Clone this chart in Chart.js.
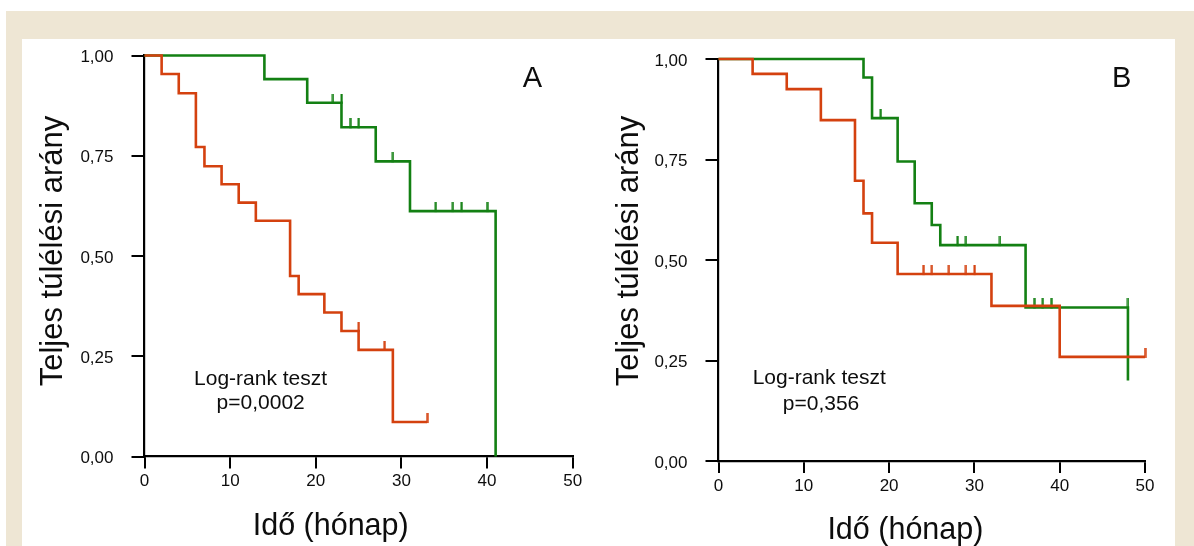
<!DOCTYPE html>
<html>
<head>
<meta charset="utf-8">
<script src="https://cdn.jsdelivr.net/npm/chart.js@4/dist/chart.umd.min.js"></script>
<style>
  html, body { margin: 0; padding: 0; background: #ffffff; }
  #page { position: relative; width: 1194px; height: 546px; overflow: hidden; }
  #frame { position: absolute; left: 6px; top: 11px; width: 1188px; height: 535px; background: #eee6d4; }
  #panel { position: absolute; left: 22px; top: 39px; width: 1153px; height: 507px; background: #ffffff; }
  canvas { position: absolute; top: 0; }
  #chartA { left: 0; }
  #chartB { left: 597px; }
</style>
</head>
<body>
<div id="page">
  <div id="frame"></div>
  <div id="panel"></div>
  <canvas id="chartA" width="597" height="546"></canvas>
  <canvas id="chartB" width="597" height="546"></canvas>
</div>
<script>
// ---- data ----
const xTickLabels = ['0', '10', '20', '30', '40', '50'];
const yTickLabels = ['0,00', '0,25', '0,50', '0,75', '1,00'];

// Panel A
const greenA_t = [0, 14, 19, 23, 27, 31, 41];
const greenA_s = [1.00, 0.941, 0.882, 0.821, 0.736, 0.612, 0.00];
const greenA_cens = [22, 23, 24, 25, 29, 34, 36, 37, 40];

const redA_t = [0, 2, 4, 6, 7, 9, 11, 13, 17, 18, 21, 23, 25, 29, 33];
const redA_s = [1.00, 0.954, 0.906, 0.772, 0.724, 0.679, 0.633, 0.588, 0.450, 0.405, 0.359, 0.313, 0.266, 0.086, 0.086];
const redA_cens = [25, 28, 33];

// Panel B
const greenB_t = [0, 17, 18, 21, 23, 25, 26, 36, 48];
const greenB_s = [1.00, 0.954, 0.853, 0.745, 0.641, 0.587, 0.537, 0.382, 0.20];
const greenB_cens = [19, 28, 29, 33, 37, 38, 39, 48];

const redB_t = [0, 4, 8, 12, 16, 17, 18, 21, 32, 40, 50];
const redB_s = [1.00, 0.963, 0.925, 0.848, 0.697, 0.616, 0.543, 0.465, 0.386, 0.259, 0.259];
const redB_cens = [24, 25, 27, 29, 30, 50];

const GREEN = '#138013';
const RED = '#d4410f';
const INK = '#0d0d0d';

Chart.defaults.font.family = '"Liberation Sans", Arial, sans-serif';
Chart.defaults.color = INK;

// turn time/survival lists into points
function steps(t, s) {
  return t.map((v, i) => ({ x: v, y: s[i] }));
}

// censor mark sits on the level the curve had just before that time
function censPoints(cens, t, s) {
  return cens.map(c => {
    let y = s[0];
    for (let i = 0; i < t.length; i++) {
      if (t[i] < c) y = s[i];
    }
    return { x: c, y: y };
  });
}

// small upward tick used as point style for censored cases
function tickMark(color) {
  const c = document.createElement('canvas');
  c.width = 3;
  c.height = 18;
  const g = c.getContext('2d');
  g.fillStyle = color;
  g.fillRect(0.5, 0, 2.2, 10);
  return c;
}

// texts drawn on top of the chart (panel letter, test note, axis titles)
const textPlugin = {
  id: 'texts',
  afterDraw(chart, args, opts) {
    const ctx = chart.ctx;
    ctx.save();
    ctx.fillStyle = INK;
    ctx.textAlign = 'center';
    ctx.textBaseline = 'alphabetic';
    opts.items.forEach(it => {
      ctx.font = it.size + 'px "Liberation Sans", Arial, sans-serif';
      if (it.rotate) {
        ctx.save();
        ctx.translate(it.x, it.y);
        ctx.rotate(-Math.PI / 2);
        ctx.fillText(it.text, 0, 0);
        ctx.restore();
      } else {
        ctx.fillText(it.text, it.x, it.y);
      }
    });
    ctx.restore();
  }
};

function makeChart(id, green, red, pad, yWidth, texts) {
  return new Chart(document.getElementById(id), {
    type: 'line',
    data: {
      datasets: [
        {
          data: steps(red.t, red.s),
          borderColor: RED, borderWidth: 2.6, stepped: 'before',
          pointRadius: 0, fill: false, clip: false
        },
        {
          data: censPoints(red.cens, red.t, red.s),
          showLine: false, pointStyle: tickMark(RED), pointRadius: 8,
          borderColor: RED, clip: false
        },
        {
          data: steps(green.t, green.s),
          borderColor: GREEN, borderWidth: 2.6, stepped: 'before',
          pointRadius: 0, fill: false, clip: false
        },
        {
          data: censPoints(green.cens, green.t, green.s),
          showLine: false, pointStyle: tickMark(GREEN), pointRadius: 8,
          borderColor: GREEN, clip: false
        }
      ]
    },
    options: {
      responsive: false,
      animation: false,
      layout: { padding: pad },
      plugins: {
        legend: { display: false },
        tooltip: { enabled: false },
        texts: { items: texts }
      },
      scales: {
        x: {
          type: 'linear', min: 0, max: 50,
          afterFit(scale) { scale.height = 30; },
          ticks: {
            stepSize: 10, padding: 3, maxRotation: 0,
            font: { size: 17 }, color: INK,
            callback: (v, i) => xTickLabels[i]
          },
          grid: { drawOnChartArea: false, tickLength: 12, color: '#000', lineWidth: 2 },
          border: { color: '#000', width: 2.2 }
        },
        y: {
          type: 'linear', min: 0, max: 1,
          afterFit(scale) { scale.width = yWidth; },
          ticks: {
            stepSize: 0.25, padding: 18, labelOffset: 2,
            font: { size: 17 }, color: INK,
            callback: (v, i) => yTickLabels[i]
          },
          grid: { drawOnChartArea: false, tickLength: 13, color: '#000', lineWidth: 2 },
          border: { color: '#000', width: 2.2 }
        }
      }
    },
    plugins: [textPlugin]
  });
}

makeChart('chartA',
  { t: greenA_t, s: greenA_s, cens: greenA_cens },
  { t: redA_t, s: redA_s, cens: redA_cens },
  { left: 0, top: 55.5, right: 24.3, bottom: 59.5 }, 144.5,
  [
    { text: 'A', x: 532.5, y: 87, size: 29 },
    { text: 'Log-rank teszt', x: 260.6, y: 384.7, size: 21 },
    { text: 'p=0,0002', x: 260.7, y: 409, size: 21 },
    { text: 'Idő (hónap)', x: 330.7, y: 534.5, size: 30.5 },
    { text: 'Teljes túlélési arány', x: 62, y: 251, size: 31 }
  ].map(o => o.text.startsWith('Teljes') ? Object.assign(o, { rotate: true }) : o));

makeChart('chartB',
  { t: greenB_t, s: greenB_s, cens: greenB_cens },
  { t: redB_t, s: redB_s, cens: redB_cens },
  { left: 0, top: 59, right: 49, bottom: 55 }, 121.5,
  [
    { text: 'B', x: 524.7, y: 87, size: 29 },
    { text: 'Log-rank teszt', x: 222.2, y: 384.2, size: 21 },
    { text: 'p=0,356', x: 224, y: 410.4, size: 21 },
    { text: 'Idő (hónap)', x: 308.4, y: 539, size: 30.5 },
    { text: 'Teljes túlélési arány', x: 41, y: 251, size: 31, rotate: true }
  ]);
</script>
</body>
</html>
